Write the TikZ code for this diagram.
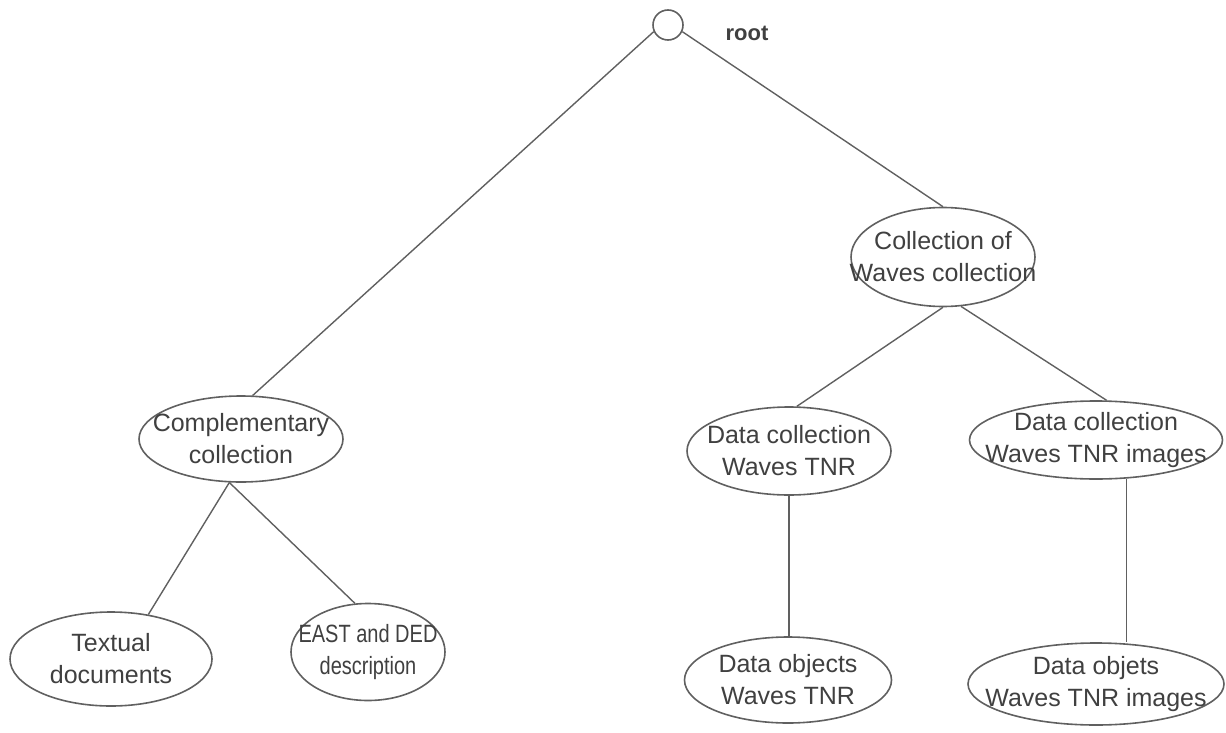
\documentclass[tikz,border=0pt]{standalone}
\usepackage{fontspec}
\setmainfont{Liberation Sans}
\newfontfamily\narrowsans{Liberation Sans}[FakeStretch=0.8]
\usetikzlibrary{shapes.geometric,calc}
\definecolor{linegray}{HTML}{606060}
\definecolor{textgray}{HTML}{404040}
\tikzset{
  ell/.style={ellipse, draw=linegray, line width=1.6pt, inner sep=0pt},
  lbl/.style={align=center, text=textgray, inner sep=0pt, font=\fontsize{25}{32}\selectfont},
  edge/.style={draw=linegray, line width=1.4pt}
}
\begin{document}
\begin{tikzpicture}[x=1pt,y=-1pt]
\useasboundingbox (0,0) rectangle (1226,733);
\node[circle, draw=linegray, line width=1.6pt, minimum size=30pt, inner sep=0pt] (root) at (668,25) {};
\node[font=\bfseries\fontsize{22}{26}\selectfont, text=textgray] (rootlabel) at (747,33) {root};
\node[ell, minimum width=184pt, minimum height=99pt, label={[lbl]center:Collection of\\Waves collection}] (coll) at (943,257) {};
\node[ell, minimum width=204pt, minimum height=86pt, label={[lbl]center:Complementary\\collection}] (comp) at (241,439) {};
\node[ell, minimum width=204pt, minimum height=88pt, label={[lbl]center:Data collection\\Waves TNR}] (tnr) at (789,451) {};
\node[ell, minimum width=253pt, minimum height=78pt, label={[lbl]center:Data collection\\Waves TNR images}] (img) at (1096,440) {};
\node[ell, minimum width=202pt, minimum height=94pt, label={[lbl]center:Textual\\documents}] (text) at (111,659) {};
\node[ell, minimum width=154pt, minimum height=97pt, label={[lbl, font=\narrowsans\fontsize{25}{32}\selectfont]center:EAST and DED\\description}] (east) at (368,652) {};
\node[ell, minimum width=207pt, minimum height=86pt, label={[lbl]center:Data objects\\Waves TNR}] (obj) at (788,680) {};
\node[ell, minimum width=256pt, minimum height=82pt, label={[lbl]center:Data objets\\Waves TNR images}] (objs) at (1096,684) {};
\draw[edge] (root.205) -- (comp.75);
\draw[edge] (root.-25) -- (coll.north);
\draw[edge] (coll.south) -- (tnr.80);
\draw[edge] (coll.-70) -- (img.75);
\draw[edge] (comp.-105) -- (text.50);
\draw[edge] (comp.-105) -- (east.105);
\draw[edge] (tnr.south) -- (tnr.south |- obj.north);
\draw[edge] (img.-52) -- (img.-52 |- objs.north);
\end{tikzpicture}
\end{document}
